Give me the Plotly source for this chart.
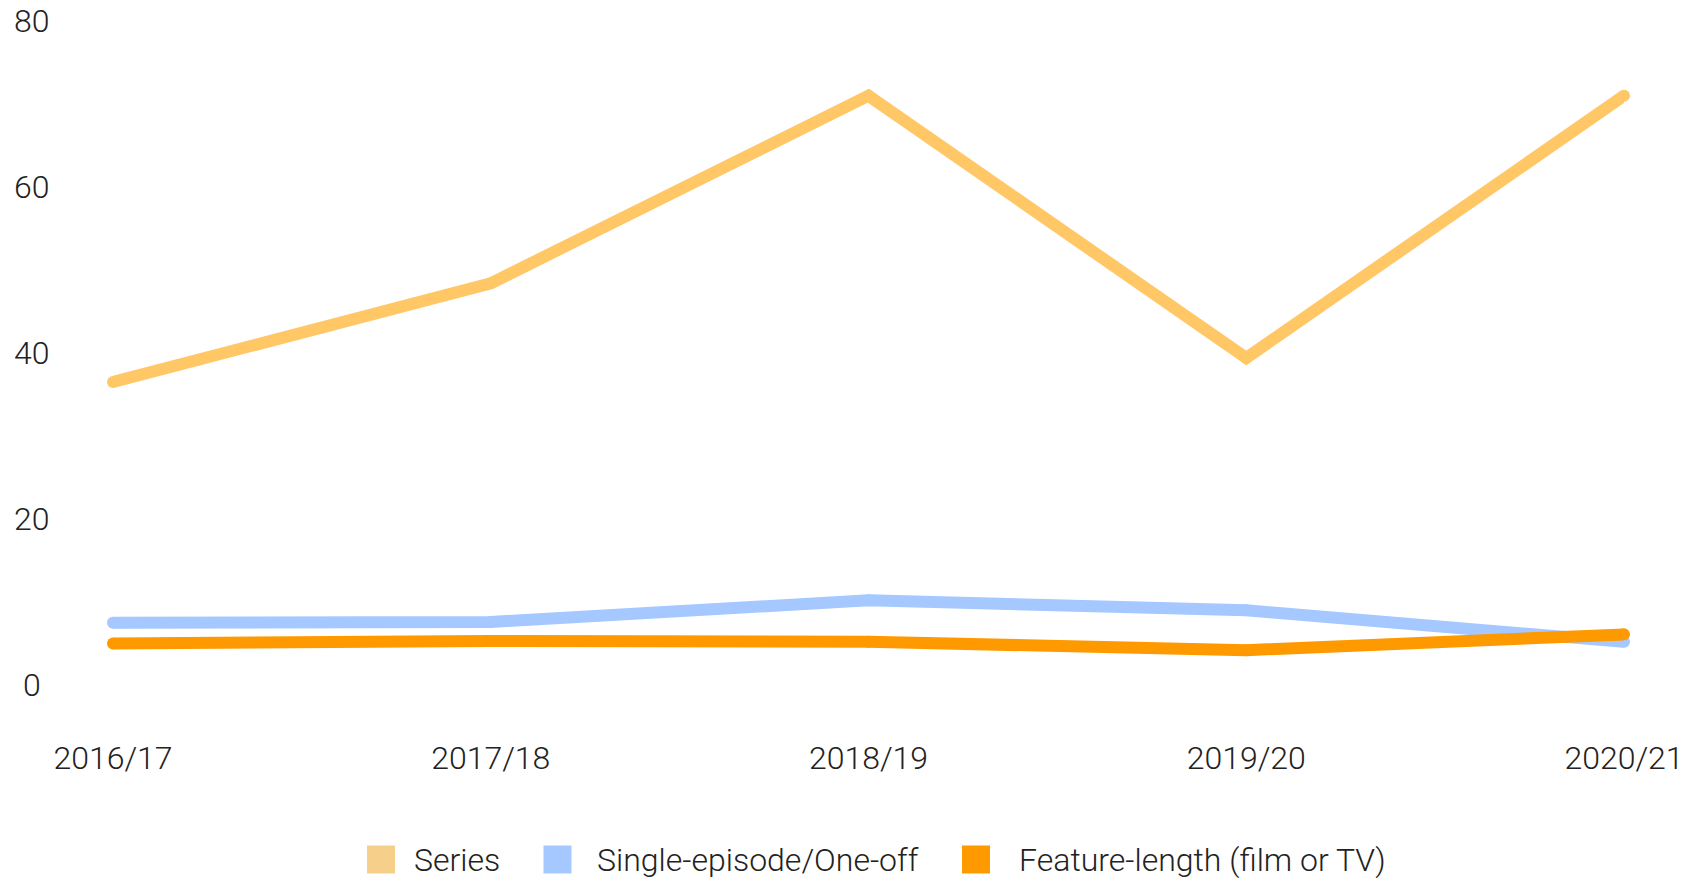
import plotly.graph_objects as go

seasons = ["2016/17", "2017/18", "2018/19", "2019/20", "2020/21"]
series_vals = [36.5, 48.4, 71.0, 39.4, 71.0]
single_vals = [7.5, 7.6, 10.2, 9.0, 5.2]
feature_vals = [5.0, 5.3, 5.2, 4.2, 6.1]
y_ticks = [0, 20, 40, 60, 80]

names = ["Series", "Single-episode/One-off", "Feature-length (film or TV)"]
line_colors = ["#FFC766", "#A4C8FF", "#FF9900"]
legend_colors = ["#F6CF8B", "#A4C8FF", "#FF9900"]
values = [series_vals, single_vals, feature_vals]

FONT = "Roboto"
TXT = "#222222"
OFF = 8  # page body margin
W, H = 1691 - OFF, 879 - OFF
L, R, T, B = 113 - OFF, 67, 21 - OFF, 194
PW, PH = W - L - R, H - T - B


def px_x(px):  # page pixel -> paper
    return (px - OFF - L) / PW


def px_y(py):
    return (H - B - (py - OFF)) / PH


fig = go.Figure()
for name, vals, lc in zip(names, values, line_colors):
    fig.add_trace(go.Scatter(
        x=seasons, y=vals, mode="lines+markers", name=name,
        line=dict(color=lc, width=12),
        marker=dict(color=lc, size=12, line=dict(width=0)),
        cliponaxis=False, showlegend=False, hoverinfo="skip"))

# y tick labels (centered, as in the reference)
for t in y_ticks:
    fig.add_annotation(x=px_x(32), xref="paper", y=t, yref="y", text=str(t),
                       showarrow=False, xanchor="center", yanchor="middle",
                       font=dict(family=FONT, size=32, color=TXT, weight=300))

# legend built from the series names / colours
sq_left = [367, 543.5, 962]
txt_left = [412, 595, 1017]
for name, lc, sx, tx in zip(names, legend_colors, sq_left, txt_left):
    fig.add_shape(type="rect", xref="paper", yref="paper",
                  x0=px_x(sx), x1=px_x(sx + 28), y0=px_y(873.5), y1=px_y(845.5),
                  fillcolor=lc, line=dict(width=0), layer="above")
    fig.add_annotation(x=px_x(tx), xref="paper", y=px_y(859.5), yref="paper",
                       text=name, showarrow=False, xanchor="left", yanchor="middle",
                       font=dict(family=FONT, size=32, color=TXT, weight=300))

fig.update_layout(
    width=W, height=H,
    margin=dict(l=L, r=R, t=T, b=B, autoexpand=False),
    paper_bgcolor="white", plot_bgcolor="white",
    font=dict(family=FONT, size=32, color=TXT, weight=300),
    showlegend=False,
    xaxis=dict(range=[0, 4], showgrid=False, zeroline=False, showline=False,
               ticks="", automargin=False,
               tickfont=dict(family=FONT, size=32, color=TXT, weight=300),
               ticklabelstandoff=51, fixedrange=True),
    yaxis=dict(range=[0, 80], tickvals=y_ticks, showticklabels=False, automargin=False,
               showgrid=False, zeroline=False, showline=False, fixedrange=True),
    hovermode=False,
)
fig.write_html("out.html")
